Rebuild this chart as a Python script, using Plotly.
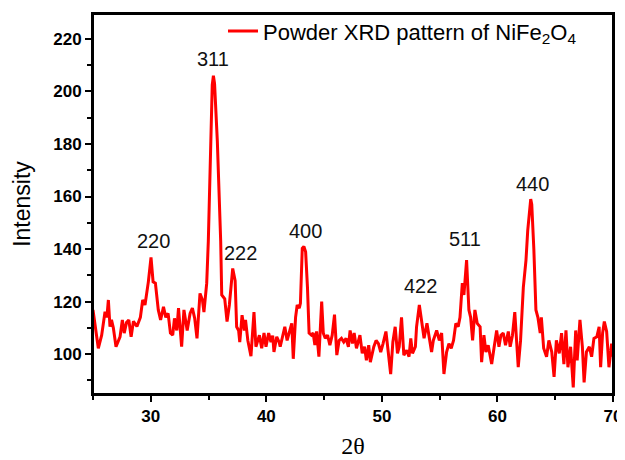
import plotly.graph_objects as go

two_theta = [
    25.0, 25.46, 25.75, 26.04, 26.2, 26.33, 26.47, 26.6, 26.76, 26.99, 27.34, 27.54, 27.7, 27.9, 28.1, 28.3,
    28.5, 28.8, 29.1, 29.3, 29.5, 29.79, 30.02, 30.2, 30.4, 30.65, 30.85, 31.1, 31.3, 31.5, 31.7,
    31.9, 32.05, 32.25, 32.4, 32.67, 32.87, 33.15, 33.4, 33.6, 33.8, 34.0, 34.26, 34.47, 34.6,
    34.84, 34.98, 35.18, 35.32, 35.42, 35.52, 35.76, 36.05, 36.14, 36.4, 36.6, 36.8, 37.09, 37.3,
    37.43, 37.6, 37.7, 37.9, 38.1, 38.2, 38.4, 38.67, 38.93, 39.1, 39.4, 39.6, 39.8, 39.97,
    40.2, 40.4, 40.55, 40.66, 40.9, 41.1, 41.2, 41.4, 41.6, 41.8, 42.0, 42.2, 42.33, 42.53,
    42.67, 42.85, 42.95, 43.11, 43.25, 43.4, 43.56, 43.7, 43.9, 44.05, 44.2, 44.35, 44.55, 44.79,
    44.93, 45.1, 45.3, 45.5, 45.7, 45.9, 46.1, 46.3, 46.5, 46.7, 46.9, 47.1, 47.25, 47.45,
    47.6, 47.8, 48.1, 48.3, 48.5, 48.66, 48.86, 49.0, 49.3, 49.5, 49.7, 49.9, 50.1, 50.35,
    50.55, 50.76, 50.95, 51.15, 51.35, 51.5, 51.7, 51.9, 52.15, 52.35, 52.5, 52.65, 52.9, 53.0,
    53.24, 53.45, 53.65, 53.9, 54.1, 54.3, 54.45, 54.74, 54.97, 55.17, 55.37, 55.6, 55.8, 56.0,
    56.2, 56.4, 56.6, 56.76, 56.96, 57.1, 57.33, 57.53, 57.68, 57.85, 58.05, 58.25, 58.5, 58.63,
    58.83, 59.0, 59.2, 59.5, 59.7, 59.93, 60.13, 60.3, 60.5, 60.7, 60.94, 61.1, 61.3, 61.5,
    61.8, 62.0, 62.24, 62.47, 62.62, 62.8, 62.88, 62.97, 63.15, 63.33, 63.5, 63.7, 63.8, 64.0,
    64.25, 64.45, 64.7, 64.9, 65.1, 65.35, 65.55, 65.75, 65.93, 66.1, 66.33, 66.56, 66.77, 66.9,
    67.14, 67.35, 67.5, 67.7, 67.95, 68.15, 68.35, 68.6, 68.8, 68.93, 69.1, 69.25, 69.45, 69.65,
    69.88, 70.0,
]
intensity = [
    116.8, 102.2, 107.2, 116.1, 114.0, 120.6, 110.4, 113.0, 110.0, 102.8, 106.6, 113.0, 108.0, 112.0, 113.0, 106.6,
    112.5, 110.5, 114.0, 120.6, 118.7, 127.5, 136.8, 127.5, 127.0, 116.8, 113.0, 118.0, 114.0, 115.5, 108.0,
    107.2, 113.6, 109.0, 117.5, 102.8, 116.8, 109.0, 115.5, 117.5, 113.6, 106.0, 123.1, 120.6, 116.0,
    127.0, 143.0, 181.0, 202.5, 206.0, 203.0, 181.0, 143.0, 122.5, 121.0, 112.4, 118.7, 132.6, 128.0,
    110.4, 109.0, 104.6, 114.8, 109.0, 113.0, 105.2, 99.2, 116.0, 102.8, 107.2, 102.2, 108.0, 102.8,
    108.0, 104.6, 107.0, 100.8, 106.6, 104.6, 102.8, 107.0, 110.4, 105.2, 109.0, 111.7, 98.2, 114.0,
    118.7, 117.5, 119.3, 140.3, 141.0, 139.0, 125.4, 108.0, 107.2, 108.0, 103.4, 108.6, 99.0, 120.0,
    108.0, 106.0, 107.2, 103.4, 107.2, 115.0, 99.6, 105.2, 106.0, 104.6, 106.0, 102.8, 109.0, 104.0,
    108.0, 102.2, 107.2, 100.3, 102.8, 97.6, 103.4, 96.9, 102.8, 105.2, 104.0, 100.8, 104.0, 108.6,
    100.8, 92.4, 104.6, 110.4, 100.3, 102.8, 114.0, 99.6, 101.5, 99.0, 106.0, 100.3, 102.8, 110.4,
    118.7, 113.0, 106.0, 111.7, 106.6, 100.8, 105.2, 109.0, 105.2, 108.0, 92.4, 100.8, 104.0, 102.2,
    105.2, 111.7, 110.4, 114.0, 127.0, 122.5, 135.8, 116.8, 114.0, 105.2, 116.8, 111.7, 110.4, 96.9,
    107.2, 100.8, 103.4, 96.2, 102.2, 109.0, 102.8, 107.2, 108.0, 103.4, 108.6, 102.8, 107.2, 116.0,
    95.0, 105.2, 125.4, 135.8, 147.0, 157.0, 159.0, 157.0, 140.0, 116.8, 114.0, 108.0, 114.0, 102.2,
    99.0, 105.2, 100.8, 91.3, 105.2, 100.3, 108.0, 96.2, 109.0, 95.0, 102.8, 87.3, 109.0, 97.6,
    113.0, 102.8, 89.2, 100.8, 102.8, 99.0, 106.0, 106.6, 110.4, 95.0, 108.0, 112.4, 108.6, 95.0,
    104.0, 99.0,
]

peak_labels = ["220", "311", "222", "400", "422", "511", "440"]
label_x = [30.2, 35.4, 37.8, 43.4, 53.3, 57.2, 63.0]
label_y = [143.0, 212.4, 138.5, 147.0, 125.9, 144.0, 164.8]

fig = go.Figure()
fig.add_trace(go.Scatter(
    x=two_theta, y=intensity, mode="lines",
    line=dict(color="#ff0000", width=3),
    name="Powder XRD pattern of NiFe<sub>2</sub>O<sub>4</sub>",
))

for t, lx, ly in zip(peak_labels, label_x, label_y):
    fig.add_annotation(x=lx, y=ly, text=t, showarrow=False,
                       font=dict(family="Liberation Sans, Arial", size=20, color="#111111"))

axis_common = dict(
    showline=True, linecolor="black", linewidth=2, mirror=True,
    ticks="outside", tickcolor="black", tickwidth=2, ticklen=6,
    showgrid=False, zeroline=False,
    tickfont=dict(family="Liberation Sans, Arial", size=17, color="black", weight="bold"),
)

fig.update_xaxes(
    range=[25, 70], tick0=30, dtick=10,
    minor=dict(dtick=5, tick0=25, ticks="outside", ticklen=4, tickwidth=2, tickcolor="black"),
    title=dict(text="2θ", font=dict(family="Liberation Serif, Times New Roman", size=24, color="black"), standoff=12),
    **axis_common,
)
fig.update_yaxes(
    range=[84.8, 229.5], tick0=100, dtick=20,
    minor=dict(dtick=10, tick0=100, ticks="outside", ticklen=4, tickwidth=2, tickcolor="black"),
    title=dict(text="Intensity", font=dict(family="Liberation Sans, Arial", size=23, color="black"), standoff=16),
    **axis_common,
)

fig.add_shape(type="rect", xref="paper", yref="paper", x0=0, y0=0, x1=1, y1=1,
              line=dict(color="black", width=2), fillcolor="rgba(0,0,0,0)", layer="above")

# page body has an 8px default margin, so the figure is sized/offset to compensate
fig.update_layout(
    width=617, height=452,
    margin=dict(l=85, r=12, t=6, b=66, autoexpand=False),
    plot_bgcolor="white", paper_bgcolor="white",
    showlegend=True,
    legend=dict(x=0.25, y=1.01, xanchor="left", yanchor="top", bgcolor="rgba(0,0,0,0)",
                font=dict(family="Liberation Sans, Arial", size=22, color="black"),
                itemwidth=30),
)

fig.write_html("out.html")
